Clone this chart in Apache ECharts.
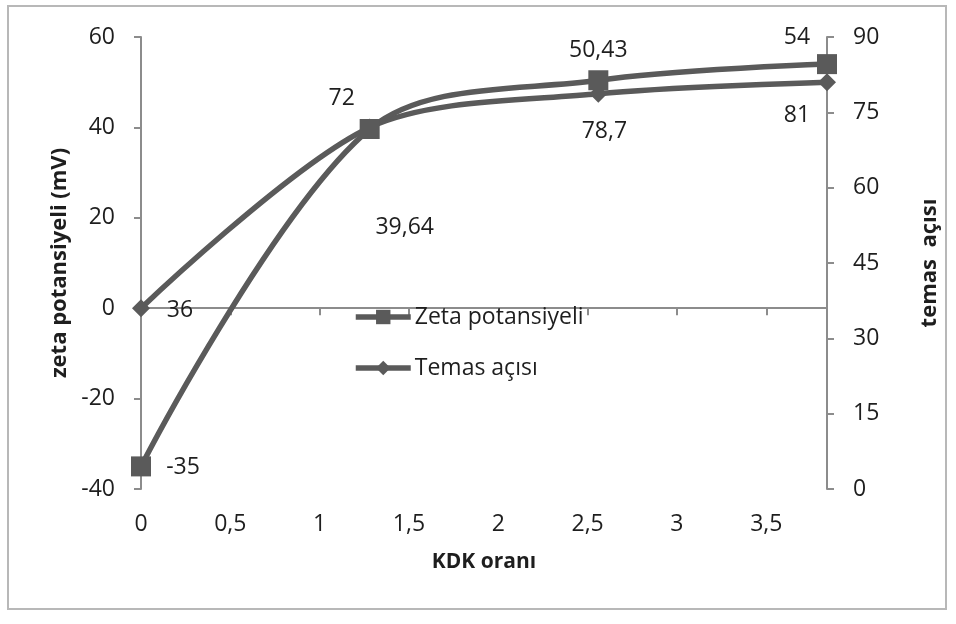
<!DOCTYPE html>
<html>
<head>
<meta charset="utf-8">
<script src="https://cdn.jsdelivr.net/npm/echarts@6/dist/echarts.min.js"></script>
<style>
  html, body { margin: 0; padding: 0; background: #fff; }
  #chart { width: 956px; height: 624px; }
</style>
</head>
<body>
<div id="chart"></div>
<script>
// KDK ratios sampled
const kdkOrani = [0, 1.28, 2.56, 3.84];
// Zeta potential (mV)
const zetaPotansiyeli = [-35, 39.64, 50.43, 54];
// Contact angle (degrees)
const temasAcisi = [36, 72, 78.7, 81];

// Per-point label placement (offsets in px from the mark)
const zetaLabelOffsets = [[42, 1], [35, 98], [0, -30], [-30, -27]];
const temasLabelOffsets = [[39, 2], [-28, -29], [6, 38], [-30, 33]];

const FONT = 'Open Sans';
const LINE = '#5a5a5a';
const AXIS = '#8c8c8c';
const TEXT = '#1e1e1e';

const fmt = v => String(v).replace('.', ',');

function pts(xs, ys, offsets) {
  return xs.map((x, i) => ({
    value: [x, ys[i]],
    label: { offset: offsets[i] }
  }));
}

const axisCommon = {
  axisLine: { show: true, lineStyle: { color: AXIS, width: 2 } },
  axisTick: { show: true, length: 7, lineStyle: { color: AXIS, width: 2 } },
  splitLine: { show: false }
};
const nameStyle = { fontFamily: FONT, fontSize: 21, fontWeight: 'bold', color: TEXT };
const tickStyle = { fontFamily: FONT, fontSize: 23, color: TEXT };

const chart = echarts.init(document.getElementById('chart'));
chart.setOption({
  animation: false,
  textStyle: { fontFamily: FONT },
  graphic: [{
    type: 'rect',
    shape: { x: 8, y: 6, width: 938, height: 603 },
    style: { fill: 'none', stroke: '#b8b8b8', lineWidth: 2 }
  }],
  grid: { left: 141, right: 129, top: 37, bottom: 135 },
  legend: {
    left: 348, top: 298,
    orient: 'vertical',
    itemGap: 23,
    itemWidth: 55, itemHeight: 18,
    lineStyle: { width: 5.5, color: LINE },
    textStyle: { fontFamily: FONT, fontSize: 23, lineHeight: 28, color: TEXT, padding: [0, 0, 0, -1] },
    data: ['Zeta potansiyeli', 'Temas açısı']
  },
  xAxis: Object.assign({
    type: 'value',
    min: 0, max: 3.84, interval: 0.5,
    name: 'KDK oranı',
    nameLocation: 'middle',
    nameGap: 63,
    nameTextStyle: nameStyle,
    axisLabel: Object.assign({ showMaxLabel: false, margin: 24, formatter: v => fmt(v) }, tickStyle)
  }, axisCommon),
  yAxis: [Object.assign({
    type: 'value',
    min: -40, max: 60, interval: 20,
    name: 'zeta potansiyeli (mV)',
    nameLocation: 'middle',
    nameRotate: 90,
    nameGap: 67,
    nameTextStyle: Object.assign({}, nameStyle, { fontSize: 22 }),
    axisLabel: Object.assign({ margin: 26 }, tickStyle)
  }, axisCommon), Object.assign({
    type: 'value',
    min: 0, max: 90, interval: 15,
    position: 'right',
    name: 'temas  açısı',
    nameLocation: 'middle',
    nameRotate: 90,
    nameGap: 92,
    nameTextStyle: Object.assign({}, nameStyle, { fontSize: 22 }),
    axisLabel: Object.assign({ margin: 26 }, tickStyle)
  }, axisCommon)],
  series: [{
    name: 'Zeta potansiyeli',
    type: 'line',
    yAxisIndex: 0,
    smooth: 0.33,
    symbol: 'rect',
    symbolSize: 20,
    lineStyle: { color: LINE, width: 5.5 },
    itemStyle: { color: LINE },
    label: {
      show: true, position: 'inside',
      fontFamily: FONT, fontSize: 23, color: TEXT,
      formatter: p => fmt(p.value[1])
    },
    data: pts(kdkOrani, zetaPotansiyeli, zetaLabelOffsets),
    z: 3
  }, {
    name: 'Temas açısı',
    type: 'line',
    yAxisIndex: 1,
    smooth: 0.3,
    symbol: 'diamond',
    symbolSize: 18,
    lineStyle: { color: LINE, width: 5.5 },
    itemStyle: { color: LINE },
    label: {
      show: true, position: 'inside',
      fontFamily: FONT, fontSize: 23, color: TEXT,
      formatter: p => fmt(p.value[1])
    },
    data: pts(kdkOrani, temasAcisi, temasLabelOffsets),
    z: 2
  }]
});
</script>
</body>
</html>
